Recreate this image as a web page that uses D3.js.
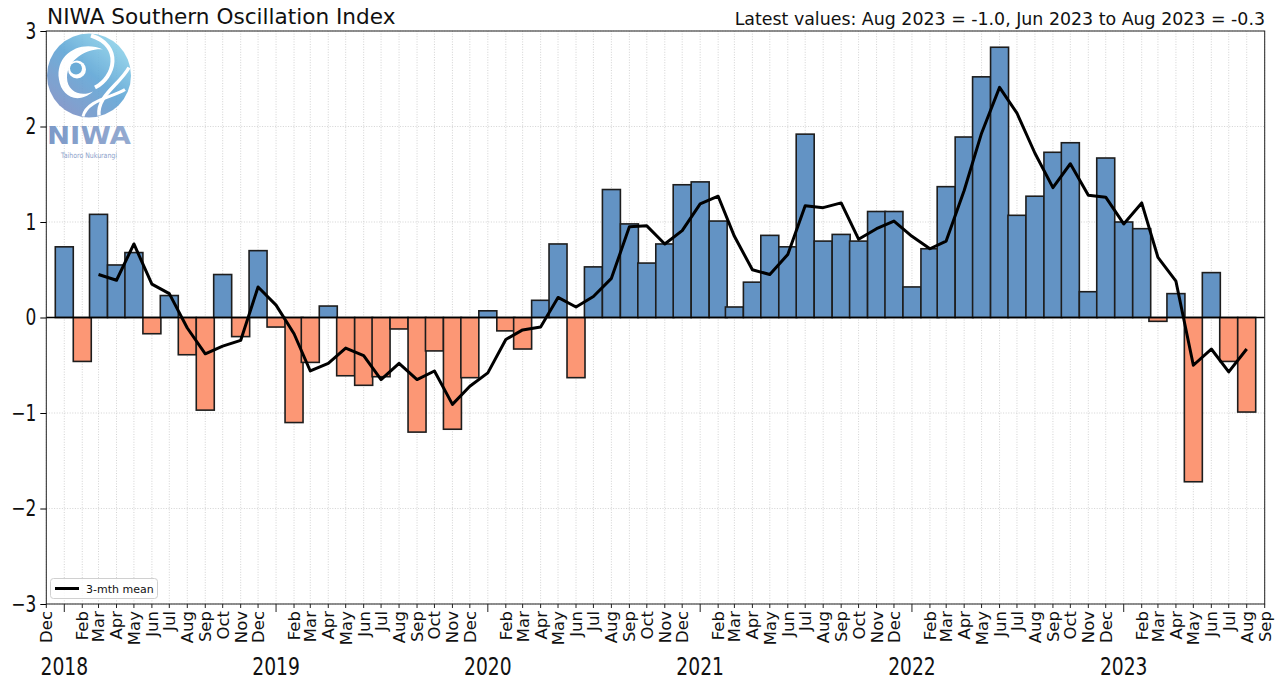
<!DOCTYPE html>
<html><head><meta charset="utf-8">
<script src="https://cdn.jsdelivr.net/npm/d3@7"></script>
<style>
html,body{margin:0;padding:0;background:#fff;}
svg{display:block;font-family:"DejaVu Sans",sans-serif;}
</style></head>
<body><svg id="chart" width="1280" height="684"></svg>
<script>
// ---- data ----
const monthNames = ["Jan","Feb","Mar","Apr","May","Jun","Jul","Aug","Sep","Oct","Nov","Dec"];
const yearLabels = ["2018","2019","2020","2021","2022","2023"];
const yTicks = [-3,-2,-1,0,1,2,3];
// monthly SOI, Jan 2018 .. Aug 2023
const soi2018 = [0.74,-0.46,1.08,0.55,0.68,-0.17,0.23,-0.39,-0.97,0.45,-0.20,0.70];
const soi2019 = [-0.10,-1.10,-0.47,0.12,-0.61,-0.71,-0.62,-0.12,-1.20,-0.35,-1.17,-0.63];
const soi2020 = [0.07,-0.14,-0.33,0.18,0.77,-0.63,0.53,1.34,0.98,0.57,0.77,1.39];
const soi2021 = [1.42,1.01,0.11,0.37,0.86,0.74,1.92,0.80,0.87,0.80,1.11,1.11];
const soi2022 = [0.32,0.72,1.37,1.89,2.52,2.83,1.07,1.27,1.73,1.83,0.27,1.67];
const soi2023 = [1.00,0.93,-0.04,0.25,-1.72,0.47,-0.46,-0.99];
// 3-month mean, Mar 2018 .. Aug 2023
const mean3 = [0.45,0.39,0.77,0.35,0.25,-0.11,-0.38,-0.30,-0.24,0.32,
  0.13,-0.17,-0.56,-0.48,-0.32,-0.40,-0.65,-0.48,-0.65,-0.56,-0.91,-0.72,
  -0.58,-0.23,-0.13,-0.10,0.21,0.11,0.22,0.41,0.95,0.96,0.77,0.91,
  1.19,1.27,0.85,0.50,0.45,0.66,1.17,1.15,1.20,0.82,0.93,1.01,
  0.85,0.72,0.80,1.33,1.93,2.41,2.14,1.72,1.36,1.61,1.28,1.26,
  0.98,1.20,0.63,0.38,-0.50,-0.33,-0.57,-0.33];

const soi = [].concat(soi2018,soi2019,soi2020,soi2021,soi2022,soi2023);
const bars = soi.map((v,i)=>({date:new Date(Date.UTC(2018,i,1)), v}));
const meanPts = mean3.map((v,i)=>({date:new Date(Date.UTC(2018,i+2,1)), v}));

// ---- layout ----
const L=46.3, R=1264.7, T=31, B=604;
const svg = d3.select("#chart");
const x = d3.scaleUtc().domain([new Date(Date.UTC(2017,11,1)), new Date(Date.UTC(2023,8,1))]).range([L,R]);
const y = d3.scaleLinear().domain([-3,3]).range([B,T]);
const DAY = 864e5;

const monthTicks = d3.utcMonth.range(new Date(Date.UTC(2017,11,1)), new Date(Date.UTC(2023,8,2)));

// grid
const grid = svg.append("g");
grid.selectAll("line.v").data(monthTicks).join("line")
  .attr("x1",d=>x(d)).attr("x2",d=>x(d)).attr("y1",T).attr("y2",B)
  .attr("stroke","#c8c8c8").attr("stroke-width",0.8).attr("stroke-dasharray","1,1.6");
grid.selectAll("line.h").data(yTicks).join("line")
  .attr("x1",L).attr("x2",R).attr("y1",d=>y(d)).attr("y2",d=>y(d))
  .attr("stroke","#c8c8c8").attr("stroke-width",0.8).attr("stroke-dasharray","1,1.6");

// logo
const defs = svg.append("defs");
const lg = defs.append("linearGradient").attr("id","lg").attr("x1","0.85").attr("y1","0.1").attr("x2","0.15").attr("y2","0.95");
lg.append("stop").attr("offset","0").attr("stop-color","#8fd3ea");
lg.append("stop").attr("offset","0.45").attr("stop-color","#5fa6d6");
lg.append("stop").attr("offset","1").attr("stop-color","#7d8fc4");
const tg = defs.append("linearGradient").attr("id","tg").attr("x1","0").attr("y1","0").attr("x2","1").attr("y2","0");
tg.append("stop").attr("offset","0").attr("stop-color","#6f8fc3");
tg.append("stop").attr("offset","1").attr("stop-color","#8aa2cc");
const logo = svg.append("g").attr("opacity",0.9);
const cx=89, cy=75.5, r=42;
logo.append("circle").attr("cx",cx).attr("cy",cy).attr("r",r).attr("fill","url(#lg)");
// swirl (white bands)
logo.append("path").attr("fill","#fff")
  .attr("d",`M${cx-30},${cy+4} C${cx-34},${cy-22} ${cx-8},${cy-36} ${cx+14},${cy-26}
    C${cx+2},${cy-28} ${cx-22},${cy-18} ${cx-22},${cy+2}
    C${cx-22},${cy+16} ${cx-8},${cy+22} ${cx+4},${cy+16}
    C${cx-12},${cy+30} ${cx-28},${cy+20} ${cx-30},${cy+4} Z`);
logo.append("circle").attr("cx",cx-12).attr("cy",cy-6).attr("r",9).attr("fill","#fff");
logo.append("circle").attr("cx",cx-13).attr("cy",cy-7).attr("r",6).attr("fill","#5aa3d3");
logo.append("path").attr("fill","none").attr("stroke","#fff").attr("stroke-width",4)
  .attr("d",`M${cx+2},${cy-40} C${cx+34},${cy-30} ${cx+26},${cy+2} ${cx+6},${cy+12}`);
logo.append("path").attr("fill","none").attr("stroke","#fff").attr("stroke-width",3.5)
  .attr("d",`M${cx+10},${cy+40} C${cx+8},${cy+20} ${cx+30},${cy+10} ${cx+40},${cy-8}`);
logo.append("path").attr("fill","none").attr("stroke","#fff").attr("stroke-width",3)
  .attr("d",`M${cx-6},${cy+41} C${cx-2},${cy+24} ${cx+24},${cy+22} ${cx+36},${cy+14}`);
logo.append("text").attr("x",47).attr("y",143.5).attr("font-weight","bold").attr("font-size",24.5)
  .attr("textLength",84).attr("lengthAdjust","spacingAndGlyphs").attr("fill","url(#tg)").text("NIWA");
logo.append("text").attr("x",61).attr("y",158).attr("font-size",7.5)
  .attr("textLength",56).attr("lengthAdjust","spacingAndGlyphs").attr("fill","#7f98c6").text("Taihoro Nukurangi");

// bars
const half = 15.5*DAY;
svg.append("g").selectAll("rect").data(bars).join("rect")
  .attr("x",d=>x(new Date(d.date.getTime()-half)))
  .attr("width",d=>x(new Date(d.date.getTime()+half))-x(new Date(d.date.getTime()-half)))
  .attr("y",d=>y(Math.max(0,d.v)))
  .attr("height",d=>Math.abs(y(d.v)-y(0)))
  .attr("fill",d=>d.v>=0?"#6393c4":"#fc9775")
  .attr("stroke","#1d1d1d").attr("stroke-width",1.6);

// zero line
svg.append("line").attr("x1",L).attr("x2",R).attr("y1",y(0)).attr("y2",y(0))
  .attr("stroke","#000").attr("stroke-width",1.6);

// mean line
svg.append("path").datum(meanPts)
  .attr("d",d3.line().x(d=>x(d.date)).y(d=>y(d.v)))
  .attr("fill","none").attr("stroke","#000").attr("stroke-width",3).attr("stroke-linejoin","round");

// frame
svg.append("rect").attr("x",L).attr("y",T).attr("width",R-L).attr("height",B-T)
  .attr("fill","none").attr("stroke","#222").attr("stroke-width",1);

// y axis
const yAxis = svg.append("g").attr("transform",`translate(${L},0)`)
  .call(d3.axisLeft(y).tickValues(yTicks).tickSize(6).tickPadding(4)
    .tickFormat(d=>d<0?"\u2212"+Math.abs(d):String(d)));
yAxis.select(".domain").remove();
yAxis.selectAll("text").attr("font-size",23).attr("font-family","DejaVu Sans").attr("fill","#111")
  .attr("transform",function(){return null;});
yAxis.selectAll(".tick text").each(function(){
  const t=d3.select(this); const xx=+t.attr("x");
  t.attr("transform",`translate(${xx},0) scale(0.74,1) translate(${-xx},0)`);
});

// x axis
const xg = svg.append("g").attr("transform",`translate(0,${B})`);
xg.selectAll("line").data(monthTicks).join("line")
  .attr("x1",d=>x(d)).attr("x2",d=>x(d)).attr("y1",0)
  .attr("y2",d=>d.getUTCMonth()===0?8:4).attr("stroke","#222").attr("stroke-width",1);
xg.selectAll("text.m").data(monthTicks.filter(d=>d.getUTCMonth()!==0)).join("text")
  .attr("class","m")
  .attr("transform",d=>`translate(${x(d)},${7}) rotate(-90)`)
  .attr("text-anchor","end").attr("dy","0.36em").attr("font-size",16.5).attr("fill","#111")
  .text(d=>monthNames[d.getUTCMonth()]);
xg.selectAll("text.y").data(yearLabels).join("text")
  .attr("class","y")
  .attr("transform",d=>`translate(${x(new Date(Date.UTC(+d,0,1)))},${71}) scale(0.78,1)`)
  .attr("text-anchor","middle").attr("font-size",24).attr("fill","#111")
  .text(d=>d);

// titles
svg.append("text").attr("x",47).attr("y",24).attr("font-size",21.6).attr("fill","#111")
  .text("NIWA Southern Oscillation Index");
svg.append("text").attr("x",1265).attr("y",25).attr("text-anchor","end").attr("font-size",17.4).attr("fill","#111")
  .text("Latest values: Aug 2023 = -1.0, Jun 2023 to Aug 2023 = -0.3");

// legend
const leg = svg.append("g");
leg.append("rect").attr("x",50.5).attr("y",578.5).attr("width",107).attr("height",20).attr("rx",3)
  .attr("fill","#fff").attr("fill-opacity",0.8).attr("stroke","#d0d0d0");
leg.append("line").attr("x1",55).attr("x2",79).attr("y1",588.5).attr("y2",588.5).attr("stroke","#000").attr("stroke-width",3);
leg.append("text").attr("x",86).attr("y",592.5).attr("font-size",11).attr("fill","#111").text("3-mth mean");
</script></body></html>
